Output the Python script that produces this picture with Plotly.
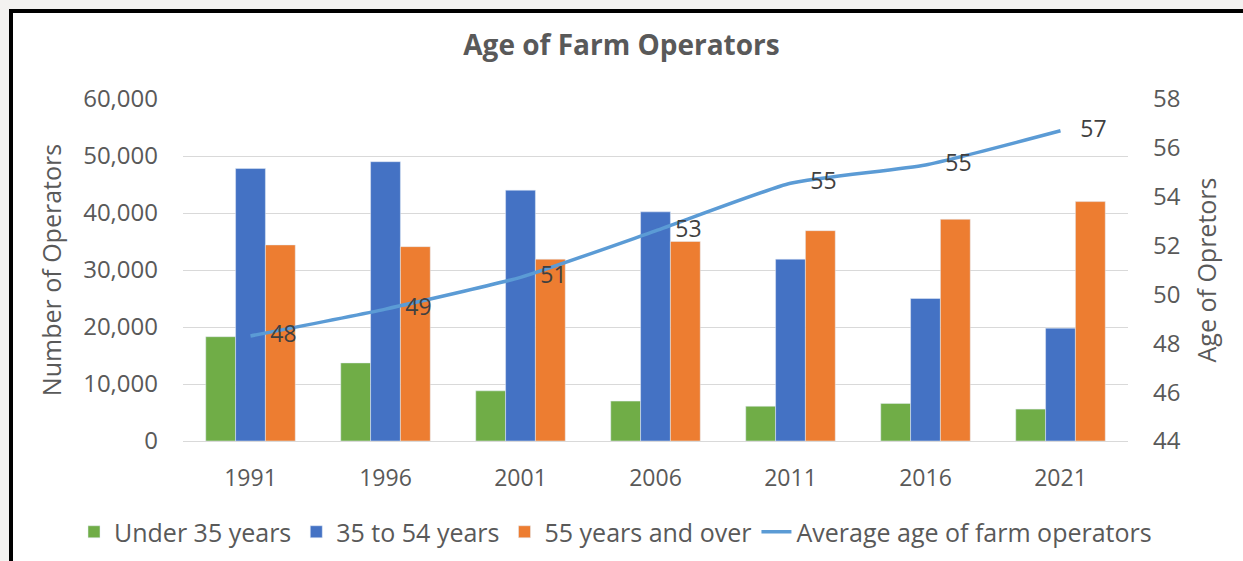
import plotly.graph_objects as go

years = ["1991", "1996", "2001", "2006", "2011", "2016", "2021"]
under_35 = [18300, 13700, 8800, 7000, 6100, 6600, 5600]
age_35_54 = [47800, 49000, 44000, 40200, 31900, 25000, 19800]
age_55_over = [34400, 34100, 31900, 35000, 36900, 38900, 42000]
avg_age = [48.3, 49.4, 50.7, 52.6, 54.55, 55.3, 56.7]

FONT = "Open Sans"
GREY = "#595959"

W, H = 1243, 561
ML, MR, MT, MB = 183, 115, 99, 120
PW, PH = W - ML - MR, H - MT - MB

def px_x(p):
    return (p - ML) / PW

def px_y(p):
    return (H - MB - p) / PH

fig = go.Figure()
fig.add_trace(go.Bar(x=years, y=under_35, name="Under 35 years", marker_color="#70AD47"))
fig.add_trace(go.Bar(x=years, y=age_35_54, name="35 to 54 years", marker_color="#4472C4"))
fig.add_trace(go.Bar(x=years, y=age_55_over, name="55 years and over", marker_color="#ED7D31"))
fig.add_trace(go.Scatter(x=years, y=avg_age, name="Average age of farm operators", yaxis="y2",
                         mode="lines", line=dict(color="#5B9BD5", width=3.5, shape="spline", smoothing=0.5)))
fig.add_trace(go.Scatter(x=years, y=avg_age, yaxis="y2", mode="markers+text", showlegend=False,
                         marker=dict(size=30, color="rgba(0,0,0,0)"),
                         texttemplate="%{y:.0f}", textposition="middle right",
                         textfont=dict(family=FONT, size=23, color="#404040"), hoverinfo="skip"))

fig.update_layout(
    width=W, height=H,
    margin=dict(l=ML, r=MR, t=MT, b=MB, autoexpand=False),
    paper_bgcolor="#f3f2f0", plot_bgcolor="white",
    barmode="group", bargap=0.337, bargroupgap=0,
    font=dict(family=FONT, color=GREY, size=23),
    title=dict(text="<b>Age of Farm Operators</b>", x=0.5, xref="container", xanchor="center",
               y=1 - 45 / H, yref="container", yanchor="middle",
               font=dict(family=FONT, size=28, color=GREY)),
    xaxis=dict(type="category", showgrid=False, showline=False, ticks="",
               tickfont=dict(size=23, color=GREY), ticklabelstandoff=21),
    yaxis=dict(range=[0, 60000], dtick=10000, tickformat=",", showgrid=True, gridcolor="#d9d9d9",
               gridwidth=1, zeroline=True, zerolinecolor="#d9d9d9", zerolinewidth=1,
               title=dict(text="Number of Operators", font=dict(size=25, color=GREY), standoff=14),
               tickfont=dict(size=24, color=GREY), ticklabelstandoff=24),
    yaxis2=dict(range=[44, 58], dtick=2, overlaying="y", side="right", showgrid=False, zeroline=False,
                title=dict(text="Age of Opretors", font=dict(size=25, color=GREY), standoff=18),
                tickfont=dict(size=24, color=GREY), ticklabelstandoff=24),
    legend=dict(orientation="h", x=px_x(74), xanchor="left",
                y=px_y(532), yanchor="middle",
                font=dict(size=25, color=GREY), bgcolor="rgba(0,0,0,0)", traceorder="normal",
                itemwidth=30, tracegroupgap=0),
    shapes=[dict(type="rect", xref="paper", yref="paper", layer="below",
                 x0=px_x(11), x1=px_x(W + 30), y0=px_y(H + 30), y1=px_y(11),
                 line=dict(color="black", width=4), fillcolor="white")],
)

fig.write_html("out.html")
